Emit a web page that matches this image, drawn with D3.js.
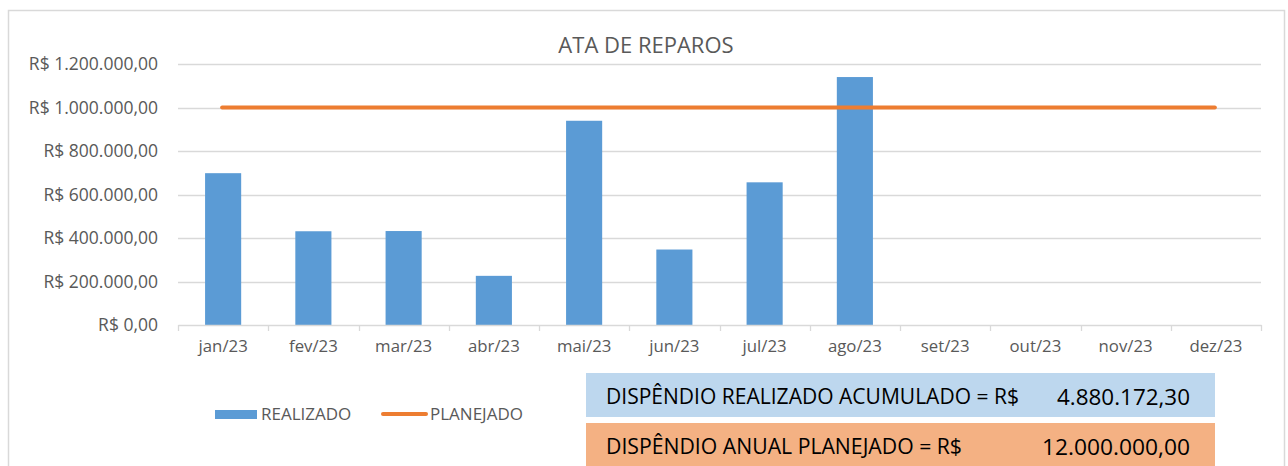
<!DOCTYPE html>
<html><head><meta charset="utf-8">
<script src="https://cdn.jsdelivr.net/npm/d3@7"></script>
<style>
body{margin:0;background:#fff;}
text{font-family:"Open Sans","Noto Sans",sans-serif;}
</style></head>
<body>
<svg id="c" width="1288" height="466"></svg>
<script>
const categories = ["jan/23","fev/23","mar/23","abr/23","mai/23","jun/23","jul/23","ago/23","set/23","out/23","nov/23","dez/23"];
const realizado = [698000, 431000, 432000, 226000, 939000, 347000, 656000, 1140000, null, null, null, null];
const planejado = [1000000,1000000,1000000,1000000,1000000,1000000,1000000,1000000,1000000,1000000,1000000,1000000];
const yTicks = [0,200000,400000,600000,800000,1000000,1200000];
const title = "ATA DE REPAROS";
const seriesNames = ["REALIZADO","PLANEJADO"];
const summaryLabels = ["DISPÊNDIO REALIZADO ACUMULADO = R$","DISPÊNDIO ANUAL PLANEJADO = R$"];
const summaryValues = ["4.880.172,30","12.000.000,00"];

const svg = d3.select("#c");
const grey = "#595959";

// outer chart border
svg.append("rect").attr("x",8.5).attr("y",10.5).attr("width",1276).attr("height",470)
  .attr("fill","#fff").attr("stroke","#D9D9D9").attr("stroke-width",1.5);

const x = d3.scaleBand().domain(categories).range([178,1261]).paddingInner(0.6).paddingOuter(0.3);
const xb = d3.scaleBand().domain(categories).range([178,1261]);
const y = d3.scaleLinear().domain([0,1200000]).range([325,64]);

const fmt = v => "R$ " + d3.format(",.2f")(v).replace(/,/g,"#").replace(/\./g,",").replace(/#/g,".");

// gridlines
svg.append("g").selectAll("line").data(yTicks.filter(d=>d>0)).join("line")
  .attr("x1",178).attr("x2",1261).attr("y1",d=>Math.round(y(d))+0.5).attr("y2",d=>Math.round(y(d))+0.5)
  .attr("stroke","#D9D9D9").attr("stroke-width",1.3);

// y axis labels
const yAxis = d3.axisLeft(y).tickValues(yTicks).tickFormat(fmt).tickSize(0).tickPadding(0);
const gy = svg.append("g").attr("transform","translate(158,0)").call(yAxis);
gy.select(".domain").remove();
gy.selectAll("text").attr("fill",grey).style("font-size","17.5px").style("font-family","'Open Sans'")
  .attr("dy","0.34em");

// bars
svg.append("g").selectAll("rect").data(categories.map((c,i)=>({c,v:realizado[i]})).filter(d=>d.v!=null)).join("rect")
  .attr("x",d=>x(d.c)).attr("width",x.bandwidth())
  .attr("y",d=>y(d.v)).attr("height",d=>y(0)-y(d.v))
  .attr("fill","#5B9BD5");

// x axis
const xAxis = d3.axisBottom(xb).tickSize(0).tickPadding(15);
const gx = svg.append("g").attr("transform","translate(0,325)").call(xAxis);
gx.select(".domain").attr("stroke","#D9D9D9").attr("stroke-width",1.3);
gx.selectAll("text").attr("fill",grey).style("font-size","16.8px").style("font-family","'Open Sans'");
svg.append("g").selectAll("line").data(categories.concat(["__end"])).join("line")
  .attr("x1",(d,i)=>Math.round(178+i*xb.step())+0.5).attr("x2",(d,i)=>Math.round(178+i*xb.step())+0.5)
  .attr("y1",325).attr("y2",331).attr("stroke","#D9D9D9").attr("stroke-width",1.3);

// planned line
const line = d3.line().x((d,i)=>xb(categories[i])+xb.bandwidth()/2 - 1).y(d=>y(d));
svg.append("path").datum(planejado).attr("d",line).attr("fill","none")
  .attr("stroke","#ED7D31").attr("stroke-width",4).attr("stroke-linecap","round");

// title
svg.append("text").attr("x",646).attr("y",53).attr("text-anchor","middle")
  .attr("fill",grey).style("font-size","22px").text(title);

// legend
svg.append("rect").attr("x",215).attr("y",410).attr("width",42).attr("height",9).attr("fill","#5B9BD5");
svg.append("text").attr("x",261).attr("y",420).attr("fill",grey).style("font-size","17px").text(seriesNames[0]);
svg.append("line").attr("x1",383).attr("x2",426).attr("y1",414).attr("y2",414)
  .attr("stroke","#ED7D31").attr("stroke-width",4).attr("stroke-linecap","round");
svg.append("text").attr("x",430).attr("y",420).attr("fill",grey).style("font-size","17px").text(seriesNames[1]);

// summary boxes
const boxColors = ["#BDD7EE","#F4B183"];
const boxY = [373,423];
summaryLabels.forEach((lab,i)=>{
  svg.append("rect").attr("x",586).attr("y",boxY[i]).attr("width",629).attr("height",44).attr("fill",boxColors[i]);
  svg.append("text").attr("x",606).attr("y",boxY[i]+31).attr("fill","#000")
    .style("font-size","21px").attr("textLength", i===0?413:356).attr("lengthAdjust","spacingAndGlyphs").text(lab);
  svg.append("text").attr("x",i===0?1057:1042).attr("y",boxY[i]+32).attr("fill","#000")
    .style("font-size","21px").attr("textLength", i===0?133:148).attr("lengthAdjust","spacingAndGlyphs").text(summaryValues[i]);
});
</script>
</body></html>
